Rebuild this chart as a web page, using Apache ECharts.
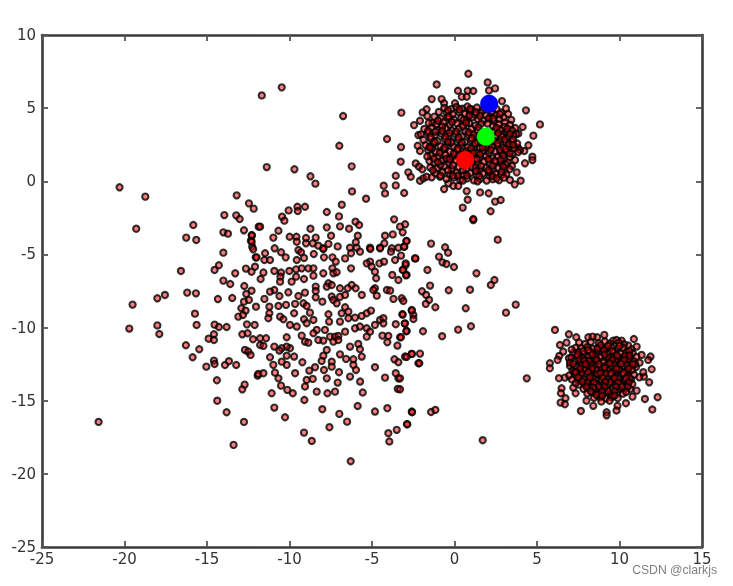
<!DOCTYPE html>
<html><head><meta charset="utf-8">
<style>html,body{margin:0;padding:0;background:#fff}#c{width:733px;height:586px;filter:blur(0.5px)}</style>
<script src="https://cdn.jsdelivr.net/npm/echarts@6/dist/echarts.min.js"></script>
</head><body><div id="c"></div>
<script>
const wideCluster = [
[-20.3,-0.41],[-18.74,-1.05],[-19.29,-3.24],[-15.83,-2.99],[-16.26,-3.85],[-15.65,-4.01],[-16.58,-6.13],[-17.55,-7.77],[-18.01,-8.0],[-19.51,-8.43],[-16.2,-7.61],[-15.67,-7.66],[-15.73,-9.05],[-18.01,-9.85],[-17.89,-10.44],[-19.71,-10.07],[-15.63,-9.82],[-16.28,-11.21],[-15.47,-11.48],[-15.87,-12.03],[-21.57,-16.45],[-14.4,-13.6],[-14.38,-15.0],[-13.81,-15.79],[-13.39,-18.02],[-12.76,-16.45],[-15.04,-12.67],[-14.58,-12.26],[-14.54,-12.49],[-13.91,-12.56],[-13.67,-12.3],[-13.23,-12.56],[-12.86,-14.22],[-12.72,-13.9],[-14.9,-10.76],[-14.58,-10.46],[-14.58,-10.85],[-14.54,-9.8],[-14.28,-9.96],[-13.81,-9.96],[-14.34,-8.05],[-13.47,-7.98],[-14.01,-6.79],[-13.59,-7.02],[-14.54,-6.06],[-14.28,-5.74],[-13.29,-6.29],[-14.01,-4.88],[-14.01,-3.49],[-13.73,-3.58],[-13.95,-2.31],[-13.2,-0.96],[-12.46,-1.51],[-12.17,-1.87],[-13.23,-2.33],[-13.02,-2.58],[-12.76,-3.35],[-12.28,-3.72],[-12.34,-4.06],[-12.26,-4.47],[-12.2,-4.65],[-12.05,-5.2],[-12.64,-5.97],[-12.3,-6.18],[-12.09,-5.84],[-12.74,-7.16],[-12.3,-7.48],[-12.62,-7.7],[-12.76,-8.23],[-12.46,-8.11],[-12.03,-8.57],[-12.92,-8.68],[-12.66,-8.84],[-13.1,-9.25],[-12.82,-9.14],[-12.58,-9.78],[-12.11,-9.82],[-12.86,-10.46],[-12.54,-10.39],[-12.21,-10.8],[-12.7,-11.53],[-12.5,-11.64],[-12.36,-11.87],[-11.93,-13.28],[-11.87,-3.1],
[-10.47,6.42],[-11.68,5.87],[-6.75,4.46],[-3.22,4.69],[-6.98,2.43],[-4.09,2.89],[-3.24,2.34],[-3.26,1.34],[-11.38,0.97],[-9.7,0.82],[-6.23,1.02],[-8.73,0.34],[-8.43,-0.16],[-3.56,0.38],[-3.56,-0.28],[-4.29,-0.3],[-4.21,-0.83],[-3.05,-0.8],[-6.21,-0.69],[-5.36,-1.19],[-6.83,-1.6],[-7.74,-2.1],[-7.0,-2.4],[-9.06,-1.74],[-9.52,-1.74],[-9.5,-2.03],[-10.05,-1.99],[-10.45,-2.42],[-10.31,-2.69],[-11.78,-3.1],[-10.67,-3.38],[-10.98,-3.85],[-8.73,-3.24],[-7.74,-3.15],[-6.94,-3.08],[-6.39,-3.24],[-7.48,-3.72],[-6.0,-2.76],[-5.78,-2.99],[-3.66,-2.6],[-2.99,-2.94],[-3.3,-3.1],[-3.14,-3.49],[-3.74,-3.63],[-4.21,-3.72],[-5.86,-3.72],[-5.98,-4.17],[-2.92,-4.08],[-4.25,-4.24],[-9.99,-3.79],[-9.58,-3.79],[-9.56,-4.13],[-9.0,-3.88],[-8.41,-3.85],[-9.0,-4.24],[-8.59,-4.24],[-8.25,-4.4],[-7.64,-4.28],[-7.08,-4.45],[-12.29,-3.67],[-12.29,-4.13],[-10.9,-4.58],[-9.46,-4.7],[-7.95,-4.58],[-6.33,-4.54],[-5.93,-4.54],[-5.12,-4.54],[-4.51,-4.54],[-3.8,-4.58],[-3.4,-4.54],[-3.04,-4.47],
[-11.48,-4.92],[-11.99,-5.2],[-11.52,-5.38],[-11.18,-5.38],[-10.51,-4.85],[-10.23,-5.2],[-9.56,-5.38],[-9.3,-4.85],[-9.12,-5.24],[-8.53,-4.97],[-7.95,-4.63],[-7.91,-5.2],[-7.4,-5.2],[-7.2,-5.49],[-6.63,-5.27],[-6.27,-4.92],[-5.73,-4.81],[-5.1,-4.63],[-4.51,-4.58],[-3.85,-4.81],[-3.24,-5.08],[-2.39,-5.27],[-3.6,-5.38],[-2.96,-5.72],[-4.55,-5.61],[-4.27,-5.49],[-5.12,-5.49],[-5.32,-5.61],[-5.02,-5.83],[-11.58,-6.24],[-11.75,-6.68],[-10.92,-6.13],[-10.51,-6.24],[-10.55,-6.52],[-10.01,-6.13],[-9.6,-6.02],[-9.26,-5.95],[-8.86,-5.95],[-8.55,-5.95],[-8.55,-6.45],[-9.12,-6.68],[-9.87,-6.86],[-9.6,-6.52],[-7.95,-6.29],[-7.4,-5.95],[-7.34,-6.29],[-7.14,-6.22],[-7.64,-6.97],[-7.74,-7.2],[-7.44,-7.09],[-6.94,-7.31],[-6.27,-5.95],[-6.23,-7.09],[-6.47,-7.31],[-5.99,-7.31],[-5.62,-7.77],[-4.75,-6.63],[-4.82,-7.31],[-4.92,-7.43],[-4.1,-7.43],[-3.9,-7.47],[-4.82,-6.18],[-3.77,-6.4],[-3.4,-6.75],[-3.1,-6.06],[-2.9,-6.4],[-3.7,-8.04],[-3.2,-8.0],[-3.1,-8.18],[-4.71,-7.82],[-10.57,-6.86],[-10.92,-7.43],[-11.18,-7.54],[-11.52,-8.04],[-10.61,-7.84],[-10.07,-7.59],[-9.46,-7.84],[-9.06,-7.61],[-8.41,-7.2],[-8.41,-7.5],[-8.41,-7.93],[-8.01,-8.23],[-10.21,-8.45],[-10.67,-8.52],[-11.22,-8.57],[-9.66,-8.38],[-9.72,-9.02],[-9.16,-8.34],[-8.96,-8.52],[-8.76,-8.98],[-11.22,-9.02],[-11.28,-9.36],[-10.57,-9.25],[-10.37,-9.43],[-9.97,-9.82],[-9.56,-9.93],[-9.12,-9.43],[-8.55,-9.48],[-8.96,-9.7],[-7.64,-9.09],[-7.6,-9.59],[-7.44,-7.88],[-7.34,-8.11],[-6.94,-7.9],[-6.63,-7.77],[-7.14,-8.34],[-6.63,-8.61],[-6.43,-8.91],[-6.84,-9.02],[-6.43,-9.36],[-6.03,-9.32],[-5.62,-9.2],[-5.32,-9.02],[-5.06,-8.84],[-6.94,-9.59],[-6.03,-10.05],[-5.73,-9.93],[-5.32,-10.05],[-5.12,-10.28],[-5.32,-10.62],[-4.82,-9.82],[-4.51,-9.48],[-4.31,-9.36],[-4.31,-9.71],[-3.56,-9.77],[-3.16,-9.09],[-2.59,-8.8],[-2.49,-9.14],[-3.0,-9.71],[-2.9,-10.23],[-3.3,-10.66],[-4.01,-10.57],[-4.37,-10.55],[-4.07,-11.0],[-3.46,-11.23],[-8.35,-10.16],[-8.55,-10.39],[-7.85,-10.16],[-8.25,-10.85],[-7.95,-10.89],[-7.54,-10.62],[-7.24,-10.62],[-7.04,-10.57],[-7.34,-10.96],[-7.04,-10.85],[-6.63,-10.28],[-6.33,-11.3],[-5.83,-11.12],[-5.73,-11.48],[-5.62,-11.98],[-6.94,-11.83],[-6.57,-12.14],[-6.13,-12.17],[-6.13,-12.55],[-5.97,-12.9],[-7.74,-11.53],[-7.95,-11.92],[-8.05,-12.28],[-7.44,-12.33],[-7.44,-12.67],[-7.91,-12.9],[-8.45,-12.71],[-8.8,-12.94],[-9.22,-12.37],[-9.66,-13.12],[-10.17,-10.66],[-9.26,-10.55],[-9.06,-10.96],[-8.86,-11.03],[-9.97,-11.41],[-10.17,-11.3],[-10.47,-11.41],[-10.61,-11.57],[-10.92,-11.3],[-9.72,-11.98],[-10.17,-11.92],[-10.17,-12.55],[-10.47,-12.33],[-11.18,-12.03],[-10.98,-12.55],[-10.88,-13.08],[-10.67,-13.47],[-10.51,-13.97],[-11.78,-10.73],[-11.42,-10.73],[-11.78,-11.19],[-11.58,-11.25],[-11.89,-13.17],[-11.58,-13.12],[-10.13,-14.26],[-9.8,-14.49],[-11.08,-14.49],[-9.1,-14.95],[-9.06,-14.03],[-8.96,-13.58],[-8.59,-13.51],[-8.35,-14.38],[-7.7,-14.49],[-7.24,-14.38],[-7.08,-13.76],[-7.74,-13.47],[-7.0,-13.05],[-6.33,-13.35],[-5.72,-13.69],[-5.56,-14.44],[-5.87,-15.36],[-8.01,-15.58],[-6.98,-15.9],[-6.51,-16.43],[-7.58,-16.81],[-9.12,-17.18],[-8.65,-17.75],[-10.92,-15.47],[-10.27,-16.13],[-4.82,-15.74],[-4.07,-15.51],[-2.59,-15.74],[-4.82,-12.71],[-4.21,-13.42],[-3.56,-13.12],[-3.4,-13.47],[-3.44,-14.19],[-4.01,-17.22],[-3.5,-16.99],[-2.86,-16.61],[-3.95,-17.79],[-3.64,-12.17],[-3.4,-12.37],[-3.0,-11.98],[-2.59,-11.8],[-2.19,-12.44],[-6.29,-19.14],
[2.62,-3.99],[1.14,-2.65],[-1.42,-4.26],[-0.57,-4.51],[-0.39,-4.88],[-0.94,-5.15],[-0.73,-5.54],[-0.49,-5.65],[-0.03,-5.86],[-2.37,-5.27],[-2.9,-4.08],[-3.06,-4.47],[-2.96,-5.61],[-3.14,-6.06],[-2.94,-6.43],[-1.64,-6.06],[1.33,-6.29],[2.42,-6.75],[2.2,-7.09],[-1.48,-7.13],[-0.35,-7.45],[0.94,-7.41],[-1.97,-7.52],[-1.72,-7.77],[-1.54,-8.11],[-1.74,-8.38],[-1.16,-8.61],[0.68,-8.68],[3.71,-8.43],[3.12,-8.98],[-2.59,-8.84],[-2.49,-9.41],[-3.14,-9.11],[-3.02,-9.73],[-2.92,-10.25],[-3.24,-10.66],[-1.91,-10.25],[-0.75,-10.59],[0.22,-10.14],[1.0,-9.91],[-2.59,-11.8],[-2.09,-11.78],[-2.9,-12.01],[-2.13,-12.44],[4.38,-13.47],[-2.57,-15.79],[-1.42,-15.77],[-1.16,-15.63],[-2.88,-16.61],[1.71,-17.7],[-3.3,-13.47],[-3.3,-14.22]
];
const topCluster = [
[0.84,7.35],[2.01,6.76],[2.46,6.35],[2.09,6.21],[-1.08,6.62],[0.21,6.19],[0.8,6.19],[1.14,6.17],[0.44,5.78],[0.74,5.78],[-1.38,5.62],[-0.78,5.62],[-0.63,5.33],[0.03,5.33],[2.88,5.48],[3.12,4.98],[4.33,4.85],[5.18,3.89],[4.78,3.12],[4.13,3.71],[3.87,3.27],[4.48,2.46],[4.23,2.07],[4.72,1.68],[4.72,1.45],[4.27,1.23],[3.83,2.3],[3.97,2.14],[3.67,1.45],[3.77,0.61],[3.65,-0.21],[4.01,0.04],[3.36,0.09],[-2.8,0.61],[-2.65,0.31],[-2.09,0.04],[-1.89,0.2],[-1.69,0.31],[-1.38,0.27],[-0.88,0.31],[-2.35,1.22],[-2.15,1.0],[-1.95,0.82],[-0.63,-0.53],[-0.37,-0.14],[-0.07,-0.32],[0.23,-0.32],[0.74,-0.67],[1.55,-0.76],[2.07,-0.82],[0.8,-1.26],[0.5,-1.8],[1.14,-2.58],[2.19,-2.05],[2.46,-1.39],[2.8,-1.28],[-2.45,3.84],[-2.09,4.14],[-1.69,4.92],[-1.93,4.71],[-1.65,4.46],[-1.34,4.0],[-2.19,3.16],[-2.23,2.43],[-2.09,2.07],[-1.52,2.36],
[-0.62,5.02],[-0.21,4.93],[0.12,5.08],[0.47,4.96],[0.78,5.11],[1.05,4.9],[1.36,5.04],[1.72,4.86],[2.28,4.72],[2.55,4.94],[2.84,4.7],[-0.95,4.74],[-0.48,4.66],[-0.11,4.58],[0.28,4.72],[0.62,4.62],[0.93,4.77],[1.24,4.55],[1.58,4.68],[1.91,4.5],[2.17,4.41],[2.52,4.53],[2.98,4.37],[3.25,4.6],[-1.22,4.42],[-0.83,4.29],[-0.42,4.36],[-0.02,4.22],[0.41,4.33],[0.74,4.19],[1.08,4.38],[1.43,4.24],[1.77,4.16],[2.06,4.29],[2.39,4.11],[2.71,4.26],[3.06,4.02],[3.44,4.2],[-1.56,3.98],[-1.09,3.92],[-0.67,4.04],[-0.28,3.87],[0.13,3.97],[0.52,3.84],[0.89,3.99],[1.27,3.82],[1.61,3.94],[2.33,3.78],[2.68,3.9],[3.02,3.72],[3.36,3.86],[3.68,3.64],[-1.83,3.58],[-1.41,3.66],[-0.97,3.51],[-0.55,3.63],[-0.16,3.47],[0.27,3.59],[0.66,3.43],[1.02,3.57],[1.41,3.49],[1.62,3.28],[2.44,3.46],[2.79,3.52],[3.14,3.38],[3.5,3.47],[3.74,3.22],[-2.03,3.21],[-1.62,3.29],[-1.19,3.14],[-0.78,3.25],[-0.36,3.09],[0.05,3.22],[0.44,3.06],[0.84,3.18],[1.22,3.03],[2.56,3.11],[2.92,3.2],[3.27,3.01],[3.58,3.13],[-1.88,2.83],[-1.44,2.91],[-1.03,2.76],[-0.59,2.87],[-0.19,2.72],[0.22,2.84],[0.63,2.69],[1.01,2.81],[1.39,2.66],[1.76,2.52],[2.1,2.44],[2.43,2.73],[2.76,2.82],[3.12,2.64],[3.46,2.77],[3.8,2.58],[-1.75,2.47],[-1.27,2.54],[-0.84,2.39],[-0.43,2.5],[-0.02,2.35],[0.39,2.47],[0.81,2.32],[1.18,2.44],[1.54,2.28],[2.28,2.36],[2.62,2.42],[2.94,2.28],[3.31,2.39],[3.62,2.24],[-1.6,2.12],[-1.13,2.02],[-0.69,2.16],[-0.27,2.01],[0.16,2.13],[0.56,1.97],[0.97,2.09],[1.34,1.94],[1.72,2.07],[2.08,1.93],[2.47,2.05],[2.81,1.92],[3.17,2.03],[3.52,1.88],[3.86,1.99],[-1.44,1.76],[-0.98,1.68],[-0.55,1.81],[-0.11,1.66],[0.35,1.78],[0.77,1.62],[1.16,1.74],[1.54,1.59],[1.91,1.71],[2.28,1.57],[2.64,1.69],[3.0,1.54],[3.35,1.66],[-1.52,1.38],[-1.21,1.27],[-0.78,1.41],[-0.33,1.29],[0.08,1.44],[1.04,1.31],[1.41,1.22],[1.78,1.36],[2.13,1.19],[2.49,1.33],[2.86,1.18],[3.22,1.29],[3.48,1.05],[-1.47,0.94],[-1.06,0.88],[-0.62,1.01],[-0.17,0.87],[0.27,0.97],[0.71,0.82],[1.14,0.94],[1.52,0.8],[1.93,0.92],[2.31,0.79],[2.67,0.91],[3.05,0.76],[3.34,0.83],[-1.16,0.55],[-0.74,0.62],[-0.31,0.47],[0.12,0.58],[0.54,0.43],[0.95,0.56],[1.34,0.41],[1.72,0.53],[2.11,0.38],[2.48,0.51],[2.84,0.42],[3.14,0.48],[-0.49,0.17],[-0.06,0.24],[0.34,0.11],[0.76,0.19],[1.18,0.06],[1.56,0.16],[1.95,0.05],[2.32,0.14],[2.7,0.07],
[-0.35,4.45],[0.55,4.2],[1.3,4.72],[2.0,3.95],[-1.15,3.4],[-0.3,3.3],[0.5,3.75],[1.15,3.2],[2.85,3.05],[3.3,2.55],[-1.35,2.25],[-0.2,2.65],[0.7,2.05],[1.55,1.85],[2.45,1.4],[3.1,1.15],[-0.85,1.1],[0.45,1.2],[1.3,0.95],[2.1,0.62],[0.2,0.38],[-0.5,1.55],[0.95,1.5],[2.75,2.15],[1.9,2.3],[-0.75,3.75],[0.9,4.5],[2.75,4.6],[3.55,2.85],[-1.65,1.7],
[-0.4,4.85],[0.3,4.9],[0.95,4.95],[1.55,4.45],[2.35,4.3],[-1.0,4.15],[-0.15,4.05],[0.7,4.0],[1.45,3.7],[2.55,3.65],[3.2,3.6],[-1.6,3.45],[-0.75,3.45],[0.1,3.4],[0.85,3.35],[2.65,3.3],[3.35,3.25],[-1.45,3.05],[-0.55,3.05],[0.25,3.0],[1.05,2.95],[3.05,2.85],[-1.2,2.7],[-0.4,2.7],[0.45,2.65],[1.25,2.6],[2.0,2.75],[2.6,2.6],[3.55,2.5],[-1.5,2.3],[-0.6,2.3],[0.2,2.25],[1.0,2.25],[1.7,2.3],[3.1,2.2],[-0.9,1.95],[-0.05,1.9],[0.8,1.85],[1.15,1.95],[2.2,2.15],[2.95,1.75],[3.35,1.9],[-1.25,1.55],[-0.3,1.5],[0.55,1.55],[1.35,1.5],[2.05,1.5],[2.8,1.45],[-1.0,1.3],[-0.1,1.1],[0.7,1.15],[1.6,1.05],[2.3,1.05],[2.95,1.0],[-1.3,0.75],[-0.4,0.75],[0.5,0.75],[1.3,0.7],[2.05,0.75],[2.85,0.65],[-0.85,0.4],[-0.1,0.4],[0.75,0.4],[1.5,0.35],[2.3,0.35],[3.0,0.25],[0.5,0.05],[1.4,0.0],[2.55,0.2]
];
const rightCluster = [
[6.09,-10.16],[6.93,-10.46],[7.38,-10.66],[6.39,-11.19],[6.79,-11.03],[6.59,-11.64],[6.35,-11.94],[6.25,-12.21],[6.93,-12.1],[5.78,-12.44],[5.78,-12.78],[6.33,-13.46],[6.69,-13.42],[6.49,-14.15],[6.45,-14.49],[6.73,-14.83],[6.43,-15.13],[6.69,-15.24],[7.34,-14.49],[7.2,-14.1],[7.66,-15.7],[8.0,-15.0],[8.41,-15.35],[9.22,-15.79],[9.22,-16.0],[9.88,-15.35],[9.82,-15.67],[10.39,-15.17],[10.79,-14.72],[11.54,-14.88],[12.31,-14.76],[11.99,-15.6],[11.04,-14.31],[11.8,-13.74],[11.48,-13.35],[11.2,-13.4],[11.95,-12.85],[11.44,-13.05],[11.88,-11.98],[11.74,-12.21],[11.34,-11.87],[10.87,-10.78],[10.53,-11.23],[11.04,-11.3],[8.11,-10.66],[8.65,-10.66],[9.08,-10.5],[8.37,-10.62],[9.62,-10.89],[10.13,-10.89],[9.82,-10.85],
[7.55,-11.02],[7.92,-11.12],[8.26,-10.98],[8.74,-11.06],[9.11,-10.95],[9.43,-11.1],[9.97,-11.04],[10.28,-11.14],[7.34,-11.38],[7.68,-11.42],[8.05,-11.33],[8.41,-11.45],[8.79,-11.36],[9.16,-11.47],[9.52,-11.35],[9.89,-11.44],[10.24,-11.4],[10.72,-11.48],[7.2,-11.74],[7.53,-11.67],[7.88,-11.78],[8.23,-11.66],[8.61,-11.76],[8.97,-11.68],[9.33,-11.79],[9.7,-11.66],[10.06,-11.77],[10.42,-11.68],[10.81,-11.75],[7.08,-12.05],[7.42,-11.98],[7.76,-12.09],[8.11,-11.97],[8.47,-12.07],[8.82,-11.99],[9.19,-12.08],[9.55,-11.97],[9.91,-12.06],[10.27,-12.0],[10.63,-12.09],[11.02,-12.0],[7.3,-12.31],[7.64,-12.38],[7.99,-12.28],[8.35,-12.39],[8.71,-12.29],[9.06,-12.37],[9.42,-12.27],[9.79,-12.38],[10.14,-12.3],[10.5,-12.37],[10.87,-12.31],[11.22,-12.4],[7.0,-12.62],[7.4,-12.68],[7.75,-12.6],[8.1,-12.71],[8.46,-12.61],[8.83,-12.69],[9.18,-12.59],[9.54,-12.7],[9.9,-12.62],[10.26,-12.68],[10.62,-12.6],[11.0,-12.7],[7.15,-12.92],[7.52,-12.98],[7.88,-12.89],[8.23,-13.0],[8.59,-12.91],[8.95,-12.99],[9.31,-12.9],[9.67,-13.01],[10.03,-12.92],[10.39,-12.99],[10.76,-12.91],[6.95,-13.28],[7.3,-13.22],[7.65,-13.31],[8.0,-13.2],[8.36,-13.3],[8.72,-13.21],[9.08,-13.31],[9.44,-13.22],[9.8,-13.3],[10.16,-13.21],[10.52,-13.3],[10.88,-13.22],[7.12,-13.55],[7.48,-13.6],[7.84,-13.52],[8.19,-13.61],[8.55,-13.53],[8.91,-13.62],[9.27,-13.52],[9.63,-13.6],[9.99,-13.53],[10.35,-13.61],[10.71,-13.54],[7.55,-13.9],[7.9,-13.84],[8.26,-13.93],[8.62,-13.85],[8.98,-13.93],[9.34,-13.84],[9.7,-13.92],[10.06,-13.85],[10.42,-13.93],[10.78,-13.86],[7.82,-14.2],[8.17,-14.14],[8.53,-14.23],[8.89,-14.15],[9.25,-14.23],[9.61,-14.15],[9.97,-14.24],[10.33,-14.16],[10.65,-14.22],[8.05,-14.5],[8.41,-14.44],[8.77,-14.53],[9.13,-14.45],[9.49,-14.54],[9.85,-14.46],[10.21,-14.52],[8.45,-14.8],[8.81,-14.76],[9.17,-14.85],[9.53,-14.77],[9.89,-14.83],
[7.8,-11.6],[8.55,-11.95],[9.05,-11.55],[9.75,-12.2],[10.35,-11.9],[7.55,-12.15],[8.25,-12.5],[8.95,-12.8],[9.65,-12.5],[10.45,-12.55],[7.7,-13.1],[8.4,-13.45],[9.15,-13.1],[9.9,-13.45],[10.6,-13.45],[8.05,-13.75],[8.75,-14.05],[9.45,-13.7],[10.15,-14.05],[8.6,-14.6],[9.3,-14.35],[7.25,-13.05],[10.95,-12.5],[10.55,-12.15],[8.85,-11.2],[9.55,-11.6],[8.15,-12.25],[9.35,-12.05],[8.65,-13.15],[9.95,-12.85],[7.35,-13.8],[7.0,-12.4],[7.1,-11.5],[10.6,-11.6],[9.4,-15.0],[8.9,-15.05],
[8.1,-11.55],[8.65,-11.45],[9.3,-11.25],[10.0,-11.25],[7.45,-11.85],[8.35,-11.85],[9.1,-11.85],[9.85,-11.9],[10.6,-11.9],[7.85,-12.25],[8.6,-12.2],[9.55,-12.2],[10.3,-12.2],[7.2,-12.5],[7.95,-12.5],[8.75,-12.5],[9.4,-12.45],[10.1,-12.5],[10.8,-12.5],[7.6,-12.8],[8.35,-12.8],[9.1,-12.75],[9.8,-12.8],[10.55,-12.8],[7.35,-13.05],[8.1,-13.05],[8.85,-13.1],[9.5,-13.1],[10.25,-13.1],[7.5,-13.4],[8.2,-13.4],[9.0,-13.45],[9.7,-13.45],[10.4,-13.45],[7.75,-13.7],[8.45,-13.75],[9.15,-13.7],[9.9,-13.75],[10.55,-13.75],[8.0,-14.05],[8.4,-14.1],[9.1,-14.05],[9.8,-14.05],[10.5,-14.05],[8.25,-14.35],[8.95,-14.35],[9.7,-14.35],[10.4,-14.4],[8.95,-14.65],[9.7,-14.65]
];
const centroidRed = [[0.65,1.45]];
const centroidGreen = [[1.9,3.05]];
const centroidBlue = [[2.1,5.3]];
const xTicks = {min:-25,max:15,interval:5};
const yTicks = {min:-25,max:10,interval:5};

const chart = echarts.init(document.getElementById('c'), null, {renderer:'svg'});
const lab = m => ({color:'#333',fontFamily:'DejaVu Sans',fontSize:15,margin:m});
const tick = {show:true,inside:true,length:6,lineStyle:{color:'#555',width:1.8}};
const line = {show:true,onZero:false,lineStyle:{color:'#3a3a3a',width:2.6}};
const pts = d => ({type:'scatter',data:d,symbolSize:6.2,silent:true,
  itemStyle:{color:'rgba(255,0,0,0.5)',borderColor:'rgba(0,0,0,0.8)',borderWidth:2.1,opacity:1}});
const big = (d,c) => ({type:'scatter',data:d,symbolSize:18,silent:true,z:5,
  itemStyle:{color:c,borderColor:'rgba(0,0,0,0.25)',borderWidth:0.5,opacity:1}});
chart.setOption({
  animation:false,
  backgroundColor:'#fff',
  grid:{left:42,right:31,top:35,bottom:39},
  xAxis:[
    {type:'value',...xTicks,axisLine:line,axisTick:tick,splitLine:{show:false},axisLabel:lab(4)},
    {type:'value',position:'top',...xTicks,axisLine:line,axisTick:tick,splitLine:{show:false},axisLabel:{show:false}}
  ],
  yAxis:[
    {type:'value',...yTicks,axisLine:line,axisTick:tick,splitLine:{show:false},axisLabel:lab(6)},
    {type:'value',position:'right',...yTicks,axisLine:line,axisTick:tick,splitLine:{show:false},axisLabel:{show:false}}
  ],
  graphic:[{type:'text',right:16,bottom:10,z:20,style:{text:'CSDN @clarkjs',fill:'#808080',font:'12.2px "Liberation Sans"'}}],
  series:[pts(wideCluster),pts(topCluster),pts(rightCluster),
    big(centroidRed,'#ff0000'),big(centroidGreen,'#00ff00'),big(centroidBlue,'#0000ff')]
});
</script></body></html>
